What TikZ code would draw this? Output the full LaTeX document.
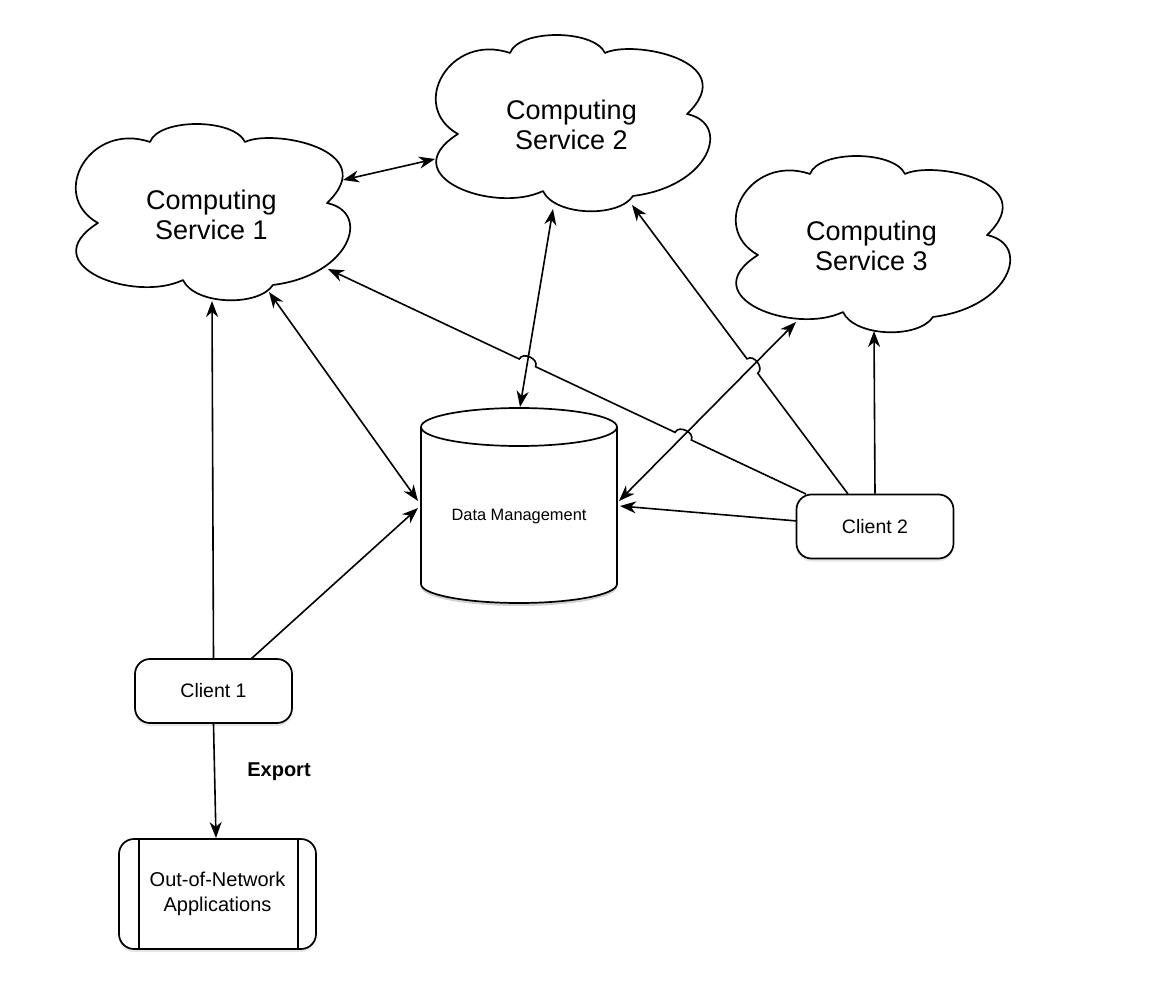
\documentclass[tikz,border=0pt]{standalone}
\usepackage{fontspec}
\setmainfont{Liberation Sans}
\usetikzlibrary{arrows.meta,calc,shadows}
\newcommand\drawcloud[2]{%
  \begin{scope}[shift={(#1,#2)},x=277pt,y=175pt]
    \draw[ln,fill=white] (0.278,0.903)
      .. controls (0.31,1.04) and (0.58,1.04) .. (0.621,0.903)
      .. controls (0.72,0.98) and (1.12,0.86) .. (0.917,0.554)
      .. controls (1.08,0.50) and (1.0,0.14) .. (0.722,0.086)
      .. controls (0.67,-0.04) and (0.44,-0.03) .. (0.397,0.114)
      .. controls (0.22,-0.02) and (-0.15,0.2) .. (0.090,0.440)
      .. controls (-0.09,0.6) and (0.06,1.02) .. (0.278,0.903) -- cycle;
  \end{scope}}
\begin{document}
\begin{tikzpicture}[x=1pt,y=1pt,
  >={Stealth[length=16pt,width=12pt,inset=5pt]},
  ln/.style={line width=1.7pt,line join=round},
  conn/.style={line width=1.6pt},
  softshadow/.style={drop shadow={shadow xshift=0pt,shadow yshift=-3pt,opacity=0.2}},
  cloudtext/.style={align=center,font=\fontsize{27}{30}\selectfont,inner sep=0},
  client/.style={draw,ln,fill=white,rounded corners=15pt,minimum width=157pt,minimum height=64pt,inner sep=0,font=\fontsize{19.5}{23}\selectfont,softshadow},
  ]
\useasboundingbox (0,0) rectangle (1152,-1008);

% clouds
\drawcloud{73}{-300}
\drawcloud{433}{-211}
\drawcloud{733}{-332}
\node[cloudtext] (cs1) at (211.5,-215) {Computing\\Service 1};
\node[cloudtext] (cs2) at (571.5,-125) {Computing\\Service 2};
\node[cloudtext] (cs3) at (871.5,-246) {Computing\\Service 3};

% cylinder
\fill[black,opacity=0.18] (421,-430) -- (421,-587) arc[start angle=180,end angle=360,x radius=98,y radius=19] -- (617,-430) -- cycle;
\draw[ln,fill=white] (421,-427) -- (421,-584) arc[start angle=180,end angle=360,x radius=98,y radius=19] -- (617,-427) arc[start angle=0,end angle=180,x radius=98,y radius=19] -- cycle;
\draw[ln] (421,-427) arc[start angle=180,end angle=360,x radius=98,y radius=19];
\node[font=\fontsize{16.4}{20}\selectfont] (dm) at (519,-517) {Data Management};

% clients and applications
\node[client] (c1) at (213.5,-691) {Client 1};
\node[client] (c2) at (875,-526.5) {Client 2};
\node[draw,ln,fill=white,rounded corners=15pt,minimum width=197pt,minimum height=110pt,inner sep=0,align=center,font=\fontsize{20}{25}\selectfont,softshadow] (oon) at (217.5,-894) {Out-of-Network\\Applications};
\draw[ln] ([xshift=21pt]oon.north west) -- ([xshift=21pt]oon.south west);
\draw[ln] ([xshift=-19pt]oon.north east) -- ([xshift=-19pt]oon.south east);
\node[font=\bfseries\fontsize{20}{24}\selectfont,anchor=base] (exp) at (279,-776) {Export};

% connector end points
\coordinate (cs1-ne) at (343,-180);
\coordinate (cs2-w) at (435,-159);
\coordinate (cs2-s) at (553,-209);
\coordinate (dm-n) at (520,-407);
\coordinate (cs1-s) at (212,-301);
\coordinate (cs1-se) at (269,-292);
\coordinate (dm-w1) at (418,-501);
\coordinate (c1-ne) at (251,-659);
\coordinate (dm-w2) at (418,-508);
\coordinate (c2-nw) at (806,-494);
\coordinate (cs1-e) at (328,-269);
\coordinate (cs3-sw) at (796,-322);
\coordinate (dm-e1) at (619,-501);
\coordinate (c2-n1) at (848,-494);
\coordinate (cs2-se) at (632,-205);
\coordinate (c2-w) at (797,-521);
\coordinate (dm-e2) at (620,-506);
\coordinate (cs3-s) at (874,-331);
\coordinate (oon-n) at (216,-838);

% line hops
\coordinate (h1) at (intersection of c2-nw--cs1-e and cs2-s--dm-n);
\coordinate (h2) at (intersection of c2-nw--cs1-e and cs3-sw--dm-e1);
\coordinate (h3) at (intersection of c2-n1--cs2-se and cs3-sw--dm-e1);
\coordinate (h1a) at ($(h1)!9pt!(c2-nw)$);
\coordinate (h1b) at ($(h1)!9pt!(cs1-e)$);
\coordinate (h1ac) at ($(h1a)!8.5pt!-90:(h1)$);
\coordinate (h1bc) at ($(h1b)!8.5pt!90:(h1)$);
\coordinate (h2a) at ($(h2)!9pt!(c2-nw)$);
\coordinate (h2b) at ($(h2)!9pt!(cs1-e)$);
\coordinate (h2ac) at ($(h2a)!8.5pt!-90:(h2)$);
\coordinate (h2bc) at ($(h2b)!8.5pt!90:(h2)$);
\coordinate (h3a) at ($(h3)!9pt!(c2-n1)$);
\coordinate (h3b) at ($(h3)!9pt!(cs2-se)$);
\coordinate (h3ac) at ($(h3a)!8.5pt!-90:(h3)$);
\coordinate (h3bc) at ($(h3b)!8.5pt!90:(h3)$);

% connectors
\draw[conn,<->] (cs1-ne) -- (cs2-w);
\draw[conn,<->] (cs2-s) -- (dm-n);
\draw[conn,->] (c1.north) -- (cs1-s);
\draw[conn,<->] (cs1-se) -- (dm-w1);
\draw[conn,->] (c1-ne) -- (dm-w2);
\draw[conn,<->] (cs3-sw) -- (dm-e1);
\draw[conn,->] (c2-w) -- (dm-e2);
\draw[conn,->] (c2.north) -- (cs3-s);
\draw[conn,->] (c2-nw) -- (h2a) .. controls (h2ac) and (h2bc) .. (h2b) -- (h1a) .. controls (h1ac) and (h1bc) .. (h1b) -- (cs1-e);
\draw[conn,->] (c2-n1) -- (h3a) .. controls (h3ac) and (h3bc) .. (h3b) -- (cs2-se);
\draw[conn,->] (c1.south) -- (oon-n);
\end{tikzpicture}
\end{document}
